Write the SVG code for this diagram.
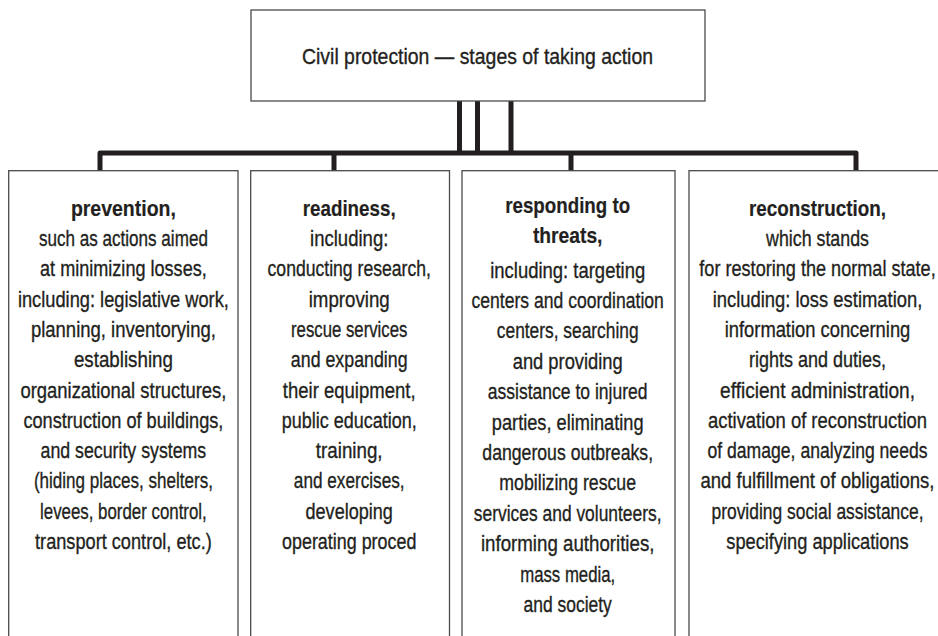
<svg xmlns="http://www.w3.org/2000/svg" width="938" height="636" viewBox="0 0 938 636">
<style>
.bg{fill:#fff}
.box{fill:#fff;stroke:#4a4a4a;stroke-width:1.3}
.conn{fill:none;stroke:#231f20;stroke-width:5;stroke-linejoin:round}
text{font-family:"Liberation Sans",Arial,sans-serif;font-size:22.5px;fill:#231f20;stroke:#231f20;stroke-width:0.35;text-anchor:middle}
.t{font-size:21.5px}
.h{font-weight:bold;stroke-width:0.2}
</style>
<rect class="bg" x="0" y="0" width="938" height="636"/>
<g id="connectors">
<path class="conn" d="M459.5,101 V153 M477.5,101 V153 M511,101 V153"/>
<path class="conn" d="M100,171 V153 H856 V171"/>
<path class="conn" d="M334,153 V171 M571,153 V171"/>
</g>
<g id="title">
<rect class="box" x="251" y="10" width="454" height="91"/>
<text class="t" x="477.5" y="64" textLength="351" lengthAdjust="spacingAndGlyphs">Civil protection — stages of taking action</text>
</g>
<g id="prevention">
<rect class="box" x="8.7" y="170.7" width="229.3" height="480"/>
<text class="h" x="123.4" y="215.7" textLength="105" lengthAdjust="spacingAndGlyphs">prevention,</text>
<text x="123.4" y="246" textLength="169" lengthAdjust="spacingAndGlyphs">such as actions aimed</text>
<text x="123.4" y="276.3" textLength="166.7" lengthAdjust="spacingAndGlyphs">at minimizing losses,</text>
<text x="123.4" y="306.6" textLength="211" lengthAdjust="spacingAndGlyphs">including: legislative work,</text>
<text x="123.4" y="336.9" textLength="185" lengthAdjust="spacingAndGlyphs">planning, inventorying,</text>
<text x="123.4" y="367.2" textLength="99" lengthAdjust="spacingAndGlyphs">establishing</text>
<text x="123.4" y="397.5" textLength="206" lengthAdjust="spacingAndGlyphs">organizational structures,</text>
<text x="123.4" y="427.8" textLength="200" lengthAdjust="spacingAndGlyphs">construction of buildings,</text>
<text x="123.4" y="458.1" textLength="165.7" lengthAdjust="spacingAndGlyphs">and security systems</text>
<text x="123.4" y="488.4" textLength="179" lengthAdjust="spacingAndGlyphs">(hiding places, shelters,</text>
<text x="123.4" y="518.7" textLength="166.7" lengthAdjust="spacingAndGlyphs">levees, border control,</text>
<text x="123.4" y="549" textLength="176.7" lengthAdjust="spacingAndGlyphs">transport control, etc.)</text>
</g>
<g id="readiness">
<rect class="box" x="250.7" y="170.7" width="198.8" height="480"/>
<text class="h" x="349.2" y="215.7" textLength="93" lengthAdjust="spacingAndGlyphs">readiness,</text>
<text x="349.2" y="246" textLength="78.3" lengthAdjust="spacingAndGlyphs">including:</text>
<text x="349.2" y="276.3" textLength="163.3" lengthAdjust="spacingAndGlyphs">conducting research,</text>
<text x="349.2" y="306.6" textLength="81" lengthAdjust="spacingAndGlyphs">improving</text>
<text x="349.2" y="336.9" textLength="116.3" lengthAdjust="spacingAndGlyphs">rescue services</text>
<text x="349.2" y="367.2" textLength="116.7" lengthAdjust="spacingAndGlyphs">and expanding</text>
<text x="349.2" y="397.5" textLength="132.7" lengthAdjust="spacingAndGlyphs">their equipment,</text>
<text x="349.2" y="427.8" textLength="135" lengthAdjust="spacingAndGlyphs">public education,</text>
<text x="349.2" y="458.1" textLength="66.7" lengthAdjust="spacingAndGlyphs">training,</text>
<text x="349.2" y="488.4" textLength="110.7" lengthAdjust="spacingAndGlyphs">and exercises,</text>
<text x="349.2" y="518.7" textLength="87.3" lengthAdjust="spacingAndGlyphs">developing</text>
<text x="349.2" y="549" textLength="134.3" lengthAdjust="spacingAndGlyphs">operating proced</text>
</g>
<g id="responding">
<rect class="box" x="462" y="170.7" width="213" height="480"/>
<text class="h" x="567.7" y="212.7" textLength="125" lengthAdjust="spacingAndGlyphs">responding to</text>
<text class="h" x="567.7" y="242.7" textLength="69.5" lengthAdjust="spacingAndGlyphs">threats,</text>
<text x="567.7" y="277.5" textLength="155" lengthAdjust="spacingAndGlyphs">including: targeting</text>
<text x="567.7" y="307.9" textLength="192.3" lengthAdjust="spacingAndGlyphs">centers and coordination</text>
<text x="567.7" y="338.3" textLength="141.7" lengthAdjust="spacingAndGlyphs">centers, searching</text>
<text x="567.7" y="368.7" textLength="110" lengthAdjust="spacingAndGlyphs">and providing</text>
<text x="567.7" y="399.1" textLength="159.7" lengthAdjust="spacingAndGlyphs">assistance to injured</text>
<text x="567.7" y="429.5" textLength="151.7" lengthAdjust="spacingAndGlyphs">parties, eliminating</text>
<text x="567.7" y="459.9" textLength="170.7" lengthAdjust="spacingAndGlyphs">dangerous outbreaks,</text>
<text x="567.7" y="490.3" textLength="136.7" lengthAdjust="spacingAndGlyphs">mobilizing rescue</text>
<text x="567.7" y="520.7" textLength="187.7" lengthAdjust="spacingAndGlyphs">services and volunteers,</text>
<text x="567.7" y="551.1" textLength="173.5" lengthAdjust="spacingAndGlyphs">informing authorities,</text>
<text x="567.7" y="581.5" textLength="95" lengthAdjust="spacingAndGlyphs">mass media,</text>
<text x="567.7" y="611.9" textLength="88.3" lengthAdjust="spacingAndGlyphs">and society</text>
</g>
<g id="reconstruction">
<rect class="box" x="689" y="170.7" width="258" height="480"/>
<text class="h" transform="translate(817.5,215.7) scale(0.838,1)">reconstruction,</text>
<text transform="translate(817.5,246) scale(0.792,1)">which stands</text>
<text transform="translate(817.5,276.3) scale(0.805,1)">for restoring the normal state,</text>
<text transform="translate(817.5,306.6) scale(0.818,1)">including: loss estimation,</text>
<text transform="translate(817.5,336.9) scale(0.816,1)">information concerning</text>
<text transform="translate(817.5,367.2) scale(0.801,1)">rights and duties,</text>
<text transform="translate(817.5,397.5) scale(0.849,1)">efficient administration,</text>
<text transform="translate(817.5,427.8) scale(0.819,1)">activation of reconstruction</text>
<text transform="translate(817.5,458.1) scale(0.782,1)">of damage, analyzing needs</text>
<text transform="translate(817.5,488.4) scale(0.825,1)">and fulfillment of obligations,</text>
<text transform="translate(817.5,518.7) scale(0.775,1)">providing social assistance,</text>
<text transform="translate(817.5,549) scale(0.811,1)">specifying applications</text>
</g>
</svg>
